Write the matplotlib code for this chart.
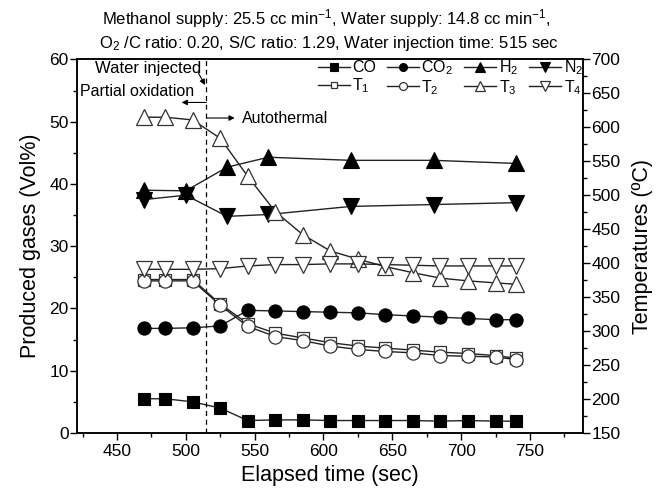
import matplotlib
matplotlib.use('Agg')
import matplotlib.pyplot as plt
from matplotlib.ticker import MultipleLocator

plt.rcParams['font.family'] = ['Liberation Sans', 'DejaVu Sans']
plt.rcParams['mathtext.default'] = 'regular'

# data
t_main = [470, 485, 505, 525, 545, 565, 585, 605, 625, 645, 665, 685, 705, 725, 740]
t_h2n2 = [470, 500, 530, 560, 620, 680, 740]

co = [5.5, 5.5, 5.0, 4.0, 2.0, 2.1, 2.1, 2.0, 2.0, 2.0, 2.0, 1.9, 2.0, 1.9, 1.9]
co2 = [16.8, 16.8, 16.9, 17.2, 19.7, 19.6, 19.5, 19.4, 19.3, 19.0, 18.8, 18.6, 18.4, 18.2, 18.2]
h2 = [39.0, 38.9, 42.7, 44.3, 43.8, 43.8, 43.3]
n2 = [37.5, 38.2, 34.8, 35.1, 36.4, 36.7, 37.0]

temp_1 = [376, 376, 376, 340, 311, 297, 290, 283, 278, 275, 272, 269, 267, 264, 260]
temp_2 = [374, 374, 374, 338, 307, 292, 286, 278, 273, 270, 268, 264, 263, 262, 258]
temp_3 = [615, 615, 611, 584, 528, 476, 442, 418, 406, 395, 386, 378, 374, 371, 369]
temp_4 = [391, 391, 391, 392, 396, 398, 398, 399, 399, 398, 397, 396, 396, 396, 396]

t_water = 515

fig = plt.figure(figsize=(6.65, 4.95), dpi=100)
ax = fig.add_axes([0.1158, 0.1253, 0.7609, 0.7545])
ax2 = ax.twinx()

lc = '#222222'
kw = dict(color=lc, lw=1.0, markeredgecolor='black', markeredgewidth=0.8)
h_co, = ax.plot(t_main, co, marker='s', ms=8.5, markerfacecolor='black', label='CO', **kw)
h_co2, = ax.plot(t_main, co2, marker='o', ms=9.5, markerfacecolor='black', label='CO$_2$', **kw)
h_h2, = ax.plot(t_h2n2, h2, marker='^', ms=11, markerfacecolor='black', label='H$_2$', **kw)
h_n2, = ax.plot(t_h2n2, n2, marker='v', ms=11, markerfacecolor='black', label='N$_2$', **kw)

kw2 = dict(color=lc, lw=1.0, markerfacecolor='white', markeredgecolor='#333333', markeredgewidth=0.9)
h_t1, = ax2.plot(t_main, temp_1, marker='s', ms=8, label='T$_1$', **kw2)
h_t2, = ax2.plot(t_main, temp_2, marker='o', ms=9.5, label='T$_2$', **kw2)
h_t3, = ax2.plot(t_main, temp_3, marker='^', ms=12, label='T$_3$', **kw2)
h_t4, = ax2.plot(t_main, temp_4, marker='v', ms=12, label='T$_4$', **kw2)

ax.axvline(t_water, color='black', ls=(0, (4, 3)), lw=0.9)

ax.set_xlim(421, 788.5)
ax.set_ylim(0, 60)
ax2.set_ylim(150, 700)

ax.xaxis.set_major_locator(MultipleLocator(50))
ax.xaxis.set_minor_locator(MultipleLocator(25))
ax.yaxis.set_major_locator(MultipleLocator(10))
ax.yaxis.set_minor_locator(MultipleLocator(5))
ax2.yaxis.set_major_locator(MultipleLocator(50))
ax2.yaxis.set_minor_locator(MultipleLocator(25))

for a in (ax, ax2):
    a.tick_params(which='major', direction='out', length=5, width=1, labelsize=12.5)
    a.tick_params(which='minor', direction='out', length=3, width=1)
    for sp in a.spines.values():
        sp.set_linewidth(1.1)
ax.tick_params(axis='x', pad=3)
ax.tick_params(axis='y', pad=1)
ax2.tick_params(axis='y', pad=1)

ax.set_xlabel('Elapsed time (sec)', fontsize=15.5, labelpad=4)
ax.set_ylabel('Produced gases (Vol%)', fontsize=15.5, labelpad=6)
ax2.set_ylabel('Temperatures (\u00baC)', fontsize=15.5, labelpad=8)

fig.text(0.49, 0.962, 'Methanol supply: 25.5 cc min$^{-1}$, Water supply: 14.8 cc min$^{-1}$,',
         ha='center', va='center', fontsize=12)
fig.text(0.495, 0.913, 'O$_2$ /C ratio: 0.20, S/C ratio: 1.29, Water injection time: 515 sec',
         ha='center', va='center', fontsize=12)

# annotations
arrow = dict(arrowstyle='-|>', lw=0.8, color='black', mutation_scale=8, shrinkA=0, shrinkB=0)
ax.text(434, 58.6, 'Water injected', ha='left', va='center', fontsize=12)
ax.annotate('', xy=(514, 55.9), xytext=(509, 57.9), arrowprops=arrow)
ax.text(423, 54.8, 'Partial oxidation', ha='left', va='center', fontsize=11.5)
ax.annotate('', xy=(497, 53.1), xytext=(t_water, 53.1), arrowprops=arrow)
ax.annotate('', xy=(535.5, 50.6), xytext=(t_water, 50.6), arrowprops=arrow)
ax.text(541, 50.6, 'Autothermal', ha='left', va='center', fontsize=11.5)

handles = [h_co, h_t1, h_co2, h_t2, h_h2, h_t3, h_n2, h_t4]
leg = ax2.legend(handles=handles, ncol=4, loc='upper right', bbox_to_anchor=(1.0, 1.003),
                 frameon=False, fontsize=11.5, handlelength=2.0, handletextpad=0.15,
                 columnspacing=0.7, labelspacing=0.05, borderaxespad=0.0,
                 markerscale=0.6, borderpad=0.0)

fig.savefig('out.png', dpi=100)
